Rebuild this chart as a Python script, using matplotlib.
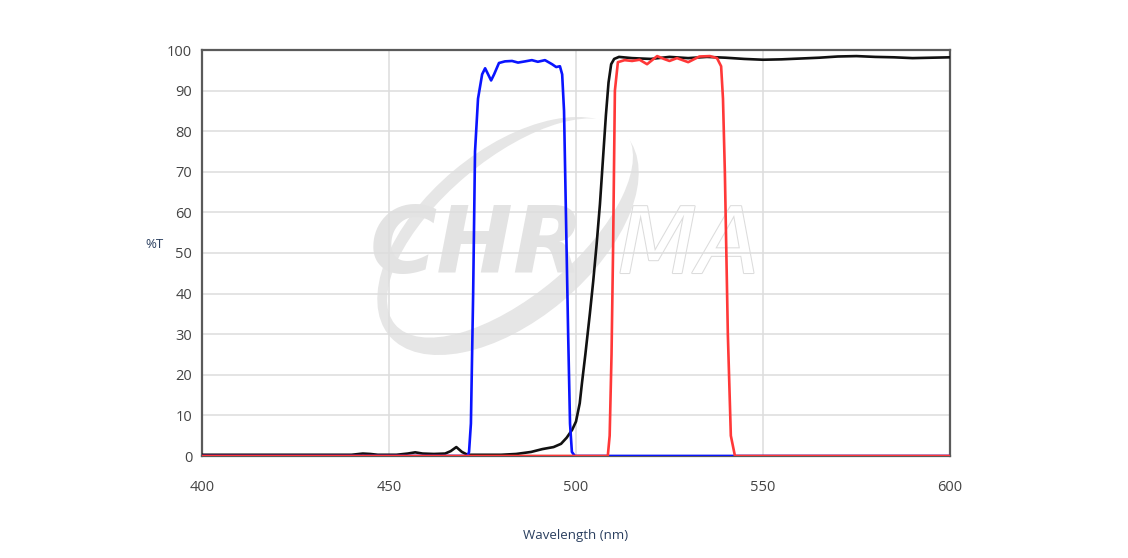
import matplotlib
matplotlib.use("Agg")
import matplotlib.pyplot as plt
from matplotlib.patches import Ellipse
import matplotlib.patheffects as pe

plt.rcParams['font.family'] = ['Open Sans', 'DejaVu Sans']

# black: broadband curve
black_wl = [400, 420, 440, 443, 445, 447, 452, 455, 457, 459, 462, 465, 466.5, 468,
            469.5, 471, 475, 480, 484, 488, 491, 494, 496, 497.5, 499, 500, 501,
            501.6, 502.5, 503.7, 504.6, 505.5, 506.4, 507.2, 508, 508.7, 509.4,
            510.2, 511.5, 515, 520, 525, 530, 535, 540, 545, 550, 555, 560, 565,
            570, 575, 580, 585, 590, 595, 600]
black_t = [0.3, 0.3, 0.3, 0.6, 0.5, 0.3, 0.3, 0.6, 0.9, 0.6, 0.5, 0.6, 1.2, 2.2,
           1.0, 0.3, 0.3, 0.3, 0.5, 1.0, 1.7, 2.2, 3.0, 4.5, 6.5, 8.5, 13,
           18, 25, 35, 43, 52, 62, 73, 84, 92, 96.5,
           97.8, 98.3, 98.0, 97.8, 98.3, 98.0, 98.3, 98.1, 97.8, 97.6, 97.7, 97.9, 98.1,
           98.4, 98.5, 98.3, 98.2, 98.0, 98.1, 98.2]

# blue: excitation band
blue_wl = [400, 471.0, 471.4, 471.9, 472.5, 473.0, 473.8, 474.9, 475.7, 476.5,
           477.3, 478.1, 479.4, 481.0, 482.9, 484.5, 486.4, 488.2, 489.8, 491.7,
           493.6, 494.7, 495.7, 496.3, 496.8, 497.3, 497.9, 498.4, 498.9, 499.7, 600]
blue_t = [0, 0, 1, 8, 40, 75, 88, 94, 95.5, 94,
          92.5, 94, 96.8, 97.2, 97.3, 96.9, 97.2, 97.5, 97.1, 97.5,
          96.5, 95.8, 96.0, 94, 85, 60, 30, 8, 1, 0, 0]

# red: emission band
red_wl = [400, 508.5, 509.0, 509.5, 509.9, 510.4, 511.2, 513, 515, 517, 519, 521.7,
          523.5, 525, 527, 530, 533, 535.8, 537.7, 538.8, 539.3, 539.8, 540.6,
          541.4, 542.5, 600]
red_t = [0, 0, 5, 25, 50, 90, 97, 97.5, 97.3, 97.6, 96.5, 98.5,
         97.8, 97.3, 98.0, 97.0, 98.4, 98.5, 98.0, 96, 88, 70, 30,
         5, 0, 0]

x_ticks = [400, 450, 500, 550, 600]
y_ticks = [0, 10, 20, 30, 40, 50, 60, 70, 80, 90, 100]

fig = plt.figure(figsize=(11.28, 5.58), dpi=100)
ax = fig.add_axes([202 / 1128, 1 - 456 / 558, 748 / 1128, 406 / 558])

# watermark (pixel positions -> inches)
def px(x, y):
    return x / 100, (558 - y) / 100

wm = fig.dpi_scale_trans
ax.add_patch(Ellipse(px(508, 236), 3.10, 1.70, angle=40, transform=wm,
                     facecolor='#e6e6e6', edgecolor='none', zorder=0.1, clip_on=False))
ax.add_patch(Ellipse(px(510, 228), 3.00, 1.36, angle=40, transform=wm,
                     facecolor='white', edgecolor='none', zorder=0.15, clip_on=False))
ax.text(*px(370, 273), "CHR", transform=wm, fontsize=66, fontweight='heavy',
        fontstyle='italic', family='DejaVu Sans', color='#e3e3e3', zorder=0.2)
ax.text(*px(618, 273), "MA", transform=wm, fontsize=66, fontweight='normal',
        fontstyle='italic', family='DejaVu Sans', color='white', zorder=0.2,
        path_effects=[pe.withStroke(linewidth=1.5, foreground='#dcdcdc')])

ax.plot(black_wl, black_t, color='#111111', lw=1.9, zorder=3)
ax.plot(blue_wl, blue_t, color='#0a14ff', lw=1.9, zorder=3)
ax.plot(red_wl, red_t, color='#ff3838', lw=1.9, zorder=4)

ax.set_xlim(400, 600)
ax.set_ylim(0, 100)
ax.set_xticks(x_ticks)
ax.set_yticks(y_ticks)
ax.set_axisbelow(True)
ax.grid(True, color='#dddddd', lw=1.1)
ax.tick_params(length=0, colors='#444444', labelsize=10.5)
ax.tick_params(axis='x', pad=17)
ax.tick_params(axis='y', pad=7)
for s in ax.spines.values():
    s.set_color('#5a5a5a')
    s.set_linewidth(1.6)

ax.set_xlabel("Wavelength (nm)", color='#2a3f5f', fontsize=9.5, labelpad=25)
fig.text(154 / 1128, 1 - 245 / 558, "%T", color='#2a3f5f', fontsize=9.5,
         ha='center', va='center')

fig.savefig("out.png", dpi=100)
